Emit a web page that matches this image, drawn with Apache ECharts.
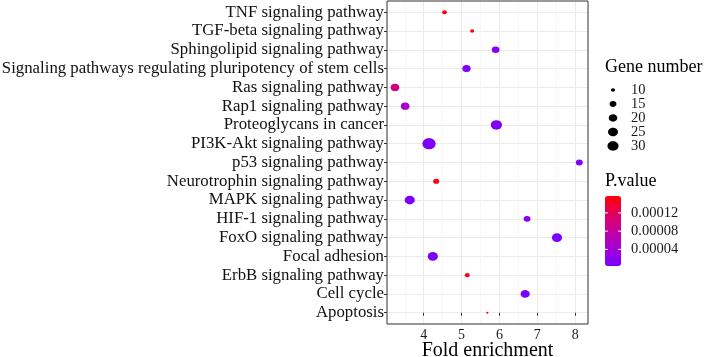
<!DOCTYPE html>
<html>
<head>
<meta charset="utf-8">
<script src="https://cdn.jsdelivr.net/npm/echarts@6/dist/echarts.min.js"></script>
<style>html,body{margin:0;padding:0;background:#fff;}#c{width:713px;height:357px;}</style>
</head>
<body>
<div id="c"></div>
<script>
// Categories listed bottom to top
const categories = [
  'Apoptosis',
  'Cell cycle',
  'ErbB signaling pathway',
  'Focal adhesion',
  'FoxO signaling pathway',
  'HIF-1 signaling pathway',
  'MAPK signaling pathway',
  'Neurotrophin signaling pathway',
  'p53 signaling pathway',
  'PI3K-Akt signaling pathway',
  'Proteoglycans in cancer',
  'Rap1 signaling pathway',
  'Ras signaling pathway',
  'Signaling pathways regulating pluripotency of stem cells',
  'Sphingolipid signaling pathway',
  'TGF-beta signaling pathway',
  'TNF signaling pathway'
];
const foldEnrichment = [5.68, 6.68, 5.15, 4.24, 7.52, 6.73, 3.63, 4.33, 8.11, 4.14, 5.92, 3.51, 3.24, 5.13, 5.90, 5.28, 4.55];
const geneNumber     = [9, 22, 11, 26, 26, 15, 26, 13, 15, 42, 31, 20, 20, 19, 17, 10, 11];
const pValue         = [1.57e-4, 3.5e-6, 1.52e-4, 5e-6, 4e-6, 1.5e-5, 6e-6, 1.45e-4, 1.4e-5, 6e-6, 8e-6, 5e-5, 1.0e-4, 1.0e-5, 1.2e-5, 1.55e-4, 1.5e-4];

const xTicks = [4, 5, 6, 7, 8];
const xMinorGrid = [3.5, 4.5, 5.5, 6.5, 7.5];
const sizeLegendValues = [10, 15, 20, 25, 30];
const pLegendTicks = [0.00012, 0.00008, 0.00004];
const pLegendLabels = ['0.00012', '0.00008', '0.00004'];

const yTicks = categories.map((c, i) => i);
const gMin = Math.min(...geneNumber), gMax = Math.max(...geneNumber);
const pMin = Math.min(...pValue), pMax = Math.max(...pValue);

function dotWidth(n) {
  const t = Math.max(0, (n - gMin) / (gMax - gMin));
  return 2.2 + 11.1 * Math.sqrt(t);
}
function dotSize(n) { const w = dotWidth(n); return [w, w * 0.85]; }

const data = categories.map((c, i) => [foldEnrichment[i], i, pValue[i], geneNumber[i]]);

const serif = '"Liberation Serif", "Times New Roman", serif';

// colorbar geometry
const cbLeft = 605, cbTop = 196, cbW = 16, cbH = 70;

const graphics = [];
graphics.push({ type: 'text', x: 605, y: 67, style: { text: 'Gene number', font: '18px ' + serif, fill: '#000', verticalAlign: 'middle' } });
const sizeLegendY = [90, 104, 118, 132, 146];
sizeLegendValues.forEach((v, k) => {
  const s = dotSize(v);
  graphics.push({ type: 'ellipse', shape: { cx: 613, cy: sizeLegendY[k], rx: s[0] / 2, ry: s[1] / 2 }, style: { fill: '#000' } });
  graphics.push({ type: 'text', x: 631, y: sizeLegendY[k], style: { text: String(v), font: '14.5px ' + serif, fill: '#1a1a1a', verticalAlign: 'middle' } });
});
graphics.push({ type: 'text', x: 605, y: 181, style: { text: 'P.value', font: '18px ' + serif, fill: '#000', verticalAlign: 'middle' } });
pLegendTicks.forEach((v, k) => {
  const y = cbTop + (pMax - v) / (pMax - pMin) * cbH;
  graphics.push({ type: 'line', shape: { x1: cbLeft, y1: y, x2: cbLeft + 3, y2: y }, style: { stroke: '#fff', lineWidth: 1 }, z: 100 });
  graphics.push({ type: 'line', shape: { x1: cbLeft + cbW - 3, y1: y, x2: cbLeft + cbW, y2: y }, style: { stroke: '#fff', lineWidth: 1 }, z: 100 });
  graphics.push({ type: 'text', x: 631, y: y, style: { text: pLegendLabels[k], font: '14.5px ' + serif, fill: '#1a1a1a', verticalAlign: 'middle' } });
});

const chart = echarts.init(document.getElementById('c'), null, { renderer: 'canvas' });
chart.setOption({
  animation: false,
  backgroundColor: '#fff',
  grid: { left: 387, right: 125, top: 1, bottom: 33, show: true, borderColor: '#333', borderWidth: 1, backgroundColor: 'transparent', z: 3, containLabel: false, outerBoundsMode: 'none' },
  xAxis: [{
    type: 'value', min: 3.03, max: 8.34,
    axisLine: { show: false },
    axisTick: { show: true, customValues: xTicks, length: 3, lineStyle: { color: '#333' } },
    axisLabel: { customValues: xTicks, fontFamily: serif, fontSize: 14, color: '#1a1a1a', margin: 4 },
    splitLine: { show: true, lineStyle: { color: '#EBEBEB', width: 1 } },
    name: 'Fold enrichment', nameLocation: 'middle', nameGap: 17, nameMoveOverlap: false,
    nameTextStyle: { fontFamily: serif, fontSize: 20, color: '#000', verticalAlign: 'top' }
  }, {
    type: 'value', min: 3.03, max: 8.34, position: 'bottom',
    axisLine: { show: false },
    axisTick: { show: false, customValues: xMinorGrid },
    axisLabel: { show: false, customValues: xMinorGrid },
    splitLine: { show: true, lineStyle: { color: '#F3F3F3', width: 0.7 } }
  }],
  yAxis: {
    type: 'value', min: -0.6, max: 16.6,
    axisLine: { show: false },
    axisTick: { show: true, customValues: yTicks, length: 3, lineStyle: { color: '#333' } },
    axisLabel: { customValues: yTicks, formatter: v => categories[Math.round(v)], fontFamily: serif, fontSize: 16.8, color: '#111', margin: 3 },
    splitLine: { show: true, lineStyle: { color: '#EBEBEB', width: 1 } }
  },
  visualMap: {
    type: 'continuous', dimension: 2, seriesIndex: 0,
    min: pMin, max: pMax, calculable: false, hoverLink: false,
    left: cbLeft, top: cbTop, itemWidth: cbW, itemHeight: cbH, padding: 0,
    text: null, showLabel: false,
    inRange: { color: ['#7B00FF', '#A300D6', '#C5009F', '#E30060', '#FF0000'] }
  },
  series: [{
    type: 'scatter', xAxisIndex: 0, yAxisIndex: 0,
    data: data,
    symbol: 'circle',
    symbolSize: (val) => dotSize(val[3]),
    itemStyle: { opacity: 1 },
    z: 5
  }],
  graphic: graphics
});
</script>
</body>
</html>
